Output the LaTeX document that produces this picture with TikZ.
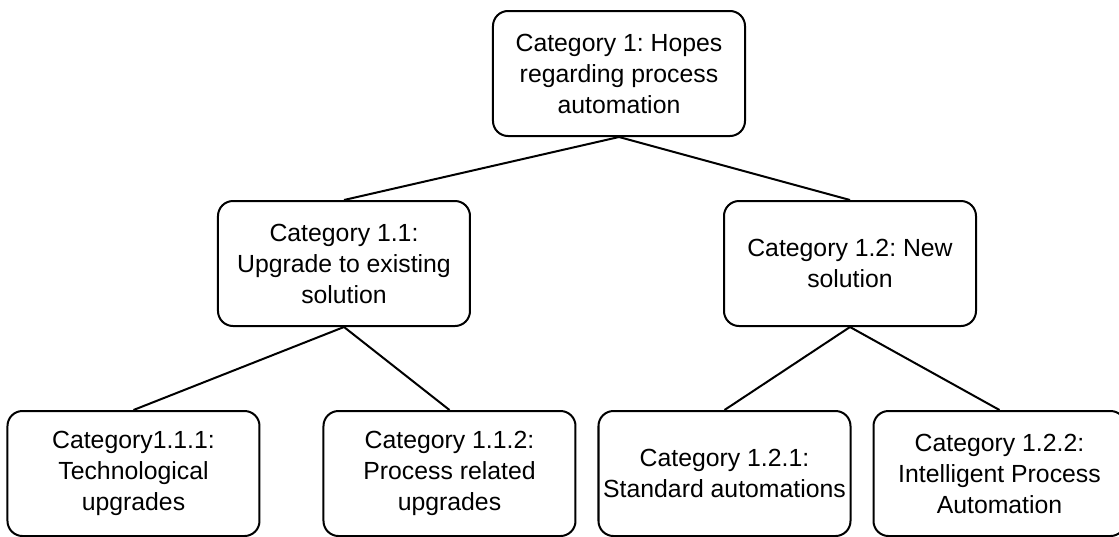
\documentclass[tikz,border=0pt]{standalone}
\usepackage{fontspec}
\setmainfont{Liberation Sans}
\usetikzlibrary{positioning}
\frenchspacing

\begin{document}
\begin{tikzpicture}[-,semithick,line width=1pt,
                    font=\fontsize{12.4}{15.5}\selectfont]

  \tikzstyle{every node} = [draw, rounded corners=7.5pt, align=center,
                            minimum width=126pt, minimum height=62.5pt,
                            inner sep=2pt]
  \useasboundingbox (-309.5pt,36.75pt) rectangle (250pt,-231.25pt);

  \node (A)                                   {Category 1: Hopes\\regarding process\\automation};
  \node (B)  [below left=31.5pt and 10.5pt of A] {Category 1.1:\\Upgrade to existing\\solution};
  \node (C)  [right=126pt of B]               {Category 1.2: New\\solution};
  \node (BB) [below=41.5pt of B, xshift=52.75pt] {Category 1.1.2:\\Process related\\upgrades};
  \node (BA) [left=31pt of BB]                {Category1.1.1:\\Technological\\upgrades};
  \node (CA) [right=10.5pt of BB]             {Category 1.2.1:\\Standard automations};
  \node (CB) [right=10.5pt of CA]             {Category 1.2.2:\\Intelligent Process\\Automation};

  \path (A.south) edge (B.north)
        (A.south) edge (C.north)
        (B.south) edge (BA.north)
        (B.south) edge (BB.north)
        (C.south) edge (CA.north)
        (C.south) edge (CB.north);
\end{tikzpicture}
\end{document}
